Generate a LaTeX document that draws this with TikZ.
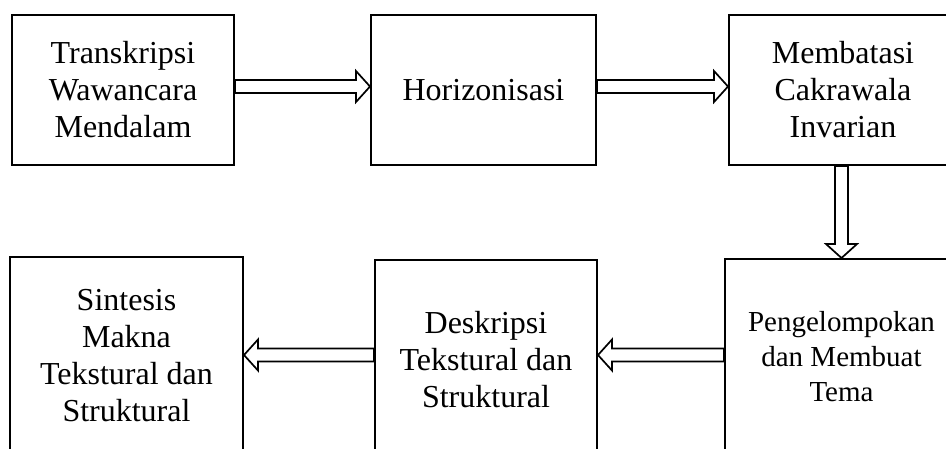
\documentclass[tikz,border=0pt]{standalone}
\usepackage{fontspec}
\setmainfont{Liberation Serif}
\usetikzlibrary{calc}

% Hollow block arrow between two coordinates
\newcommand\blockarrow[2]{%
  \coordinate (hb) at ($(#2)!14pt!(#1)$);
  \draw[blockarr]
    ($(#1)!6.5pt!90:(#2)$) -- ($(hb)!6.5pt!-90:(#1)$) -- ($(hb)!15.5pt!-90:(#1)$)
    -- (#2) -- ($(hb)!15.5pt!90:(#1)$) -- ($(hb)!6.5pt!90:(#1)$)
    -- ($(#1)!6.5pt!-90:(#2)$) -- cycle;}

\tikzset{
  stepbox/.style={draw=black, line width=2pt, fill=white, align=center,
    inner sep=0pt, font=\fontsize{32}{37}\selectfont},
  blockarr/.style={draw=black, line width=1.7pt, fill=white, line join=miter}
}

\begin{document}
\begin{tikzpicture}[x=1pt, y=-1pt]
  \useasboundingbox (0,0) rectangle (946,448);

  % upper row
  \node[stepbox, minimum width=222pt, minimum height=150pt] (b1) at (123,90)
    {Transkripsi\\Wawancara\\Mendalam};
  \node[stepbox, minimum width=225pt, minimum height=150pt] (b2) at (483.5,90)
    {Horizonisasi};
  \node[stepbox, minimum width=228pt, minimum height=150pt] (b3) at (843,90)
    {Membatasi\\Cakrawala\\Invarian};

  % lower row
  \node[stepbox, minimum width=233pt, minimum height=198pt] (b4) at (126.5,356)
    {Sintesis\\Makna\\Tekstural dan\\Struktural};
  \node[stepbox, minimum width=222pt, minimum height=199pt] (b5) at (486,359.5)
    {Deskripsi\\Tekstural dan\\Struktural};
  \node[stepbox, minimum width=233pt, minimum height=196pt,
        font=\fontsize{29}{35}\selectfont] (b6) at (841.5,357)
    {Pengelompokan\\dan Membuat\\Tema};

  % connectors
  \coordinate (a1s) at ($(b1.east)+(0,-3.5)$);
  \coordinate (a1e) at (b2.west |- a1s);
  \blockarrow{a1s}{a1e}

  \coordinate (a2s) at ($(b2.east)+(0,-3.5)$);
  \coordinate (a2e) at (b3.west |- a2s);
  \blockarrow{a2s}{a2e}

  \coordinate (a3s) at (b3.south -| b6.north);
  \blockarrow{a3s}{b6.north}

  \coordinate (a4s) at ($(b6.west)+(0,-2)$);
  \coordinate (a4e) at (b5.east |- a4s);
  \blockarrow{a4s}{a4e}

  \coordinate (a5s) at (b5.west |- a4s);
  \coordinate (a5e) at (b4.east |- a4s);
  \blockarrow{a5s}{a5e}
\end{tikzpicture}
\end{document}
